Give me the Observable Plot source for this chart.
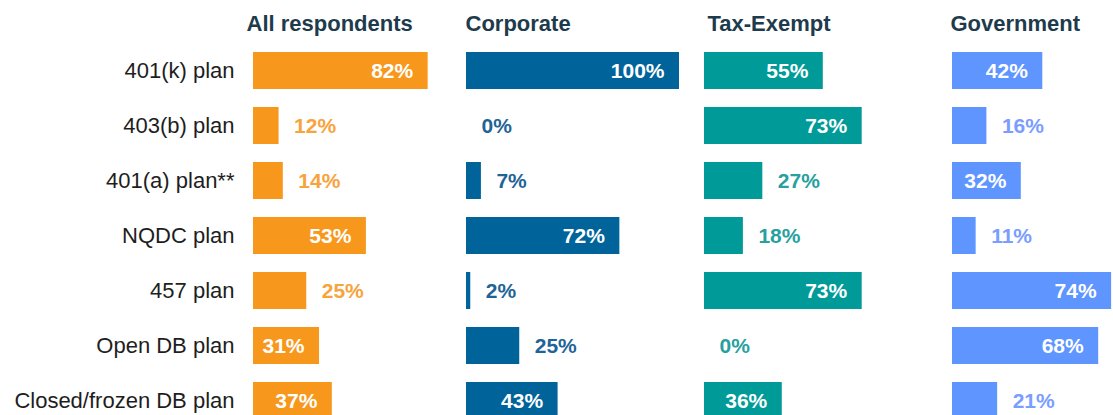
<!DOCTYPE html>
<html>
<head>
<meta charset="utf-8">
<script src="https://cdn.jsdelivr.net/npm/d3@7"></script>
<script src="https://cdn.jsdelivr.net/npm/@observablehq/plot@0.6"></script>
<style>
  html, body { margin: 0; padding: 0; background: #fff; overflow: hidden; }
  #chart { display: flex; flex-direction: row; width: 1170px; align-items: flex-start; }
  #chart svg { display: block; flex: none; }
</style>
</head>
<body>
<div id="chart"></div>
<script>
const categories = ["401(k) plan", "403(b) plan", "401(a) plan**", "NQDC plan", "457 plan", "Open DB plan", "Closed/frozen DB plan"];
const panelTitles = ["All respondents", "Corporate", "Tax-Exempt", "Government"];
const allRespondents = [82, 12, 14, 53, 25, 31, 37];
const corporate = [100, 0, 7, 72, 2, 25, 43];
const taxExempt = [55, 73, 27, 18, 73, 0, 36];
const government = [42, 16, 32, 11, 74, 68, 21];

const seriesValues = [allRespondents, corporate, taxExempt, government];
const barColors = ["#F7981D", "#00649A", "#009B98", "#5E95FF"];
const labelColors = ["#F8A33C", "#1F6497", "#27A09F", "#7A9DFF"];
const layout = [
  {width: 466, marginLeft: 253, marginRight: 0, titleDx: -7, showY: true},
  {width: 238, marginLeft: 0, marginRight: 25, titleDx: -1, showY: false},
  {width: 248, marginLeft: 0, marginRight: 32, titleDx: 3, showY: false},
  {width: 215, marginLeft: 0, marginRight: 0, titleDx: -2, showY: false}
];

const fontFamily = "'Liberation Sans', Arial, Helvetica, sans-serif";
const container = document.getElementById("chart");

panelTitles.forEach((title, p) => {
  const data = categories.map((c, i) => ({category: c, value: seriesValues[p][i]}));
  const L = layout[p];
  const svg = Plot.plot({
    width: L.width,
    height: 438,
    marginLeft: L.marginLeft,
    marginRight: L.marginRight,
    marginTop: 33,
    marginBottom: 0,
    x: {domain: [0, 100], axis: null},
    y: {domain: categories, padding: 0.32, axis: L.showY ? "left" : null, tickSize: 0, tickPadding: 19, label: null},
    style: {fontFamily, fontSize: "22px", color: "#1E1E1E", background: "white", overflow: "visible"},
    marks: [
      Plot.barX(data, {x: "value", y: "category", fill: barColors[p]}),
      Plot.text(data.filter(d => d.value >= 30), {
        x: "value", y: "category", text: d => d.value + "%",
        textAnchor: "end", dx: -15, fill: "white", fontWeight: "bold", fontSize: 21
      }),
      Plot.text(data.filter(d => d.value < 30), {
        x: "value", y: "category", text: d => d.value + "%",
        textAnchor: "start", dx: 15, fill: labelColors[p], fontWeight: "bold", fontSize: 21
      }),
      Plot.text([title], {
        text: d => d, frameAnchor: "top-left", lineAnchor: "middle", dy: -10, dx: L.titleDx,
        textAnchor: "start", fontWeight: "bold", fontSize: 22, fill: "#1D3B4C"
      })
    ]
  });
  container.appendChild(svg);
});
</script>
</body>
</html>
